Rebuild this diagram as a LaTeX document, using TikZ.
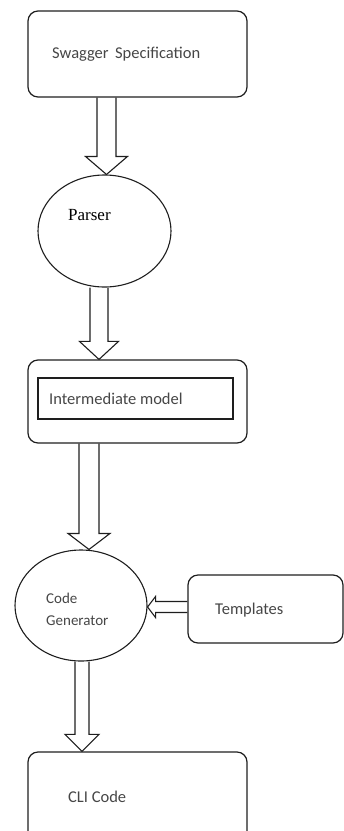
\documentclass[tikz,border=0pt]{standalone}
\usepackage{fontspec}
\setsansfont{Carlito}
\newfontfamily\parserfont{Liberation Serif}
\usetikzlibrary{calc,shapes.geometric}
\definecolor{fledge}{RGB}{30,30,30}
\definecolor{fltext}{RGB}{70,70,70}
\tikzset{
  flbox/.style={draw=fledge, line width=1.2pt, rounded corners=10pt, inner sep=0pt},
  flin/.style={draw=fledge, line width=1.2pt, inner sep=0pt},
  fleli/.style={draw=fledge, ellipse, line width=1.1pt, inner sep=0pt},
  lbl/.style={font=\fontsize{16.5}{22}\selectfont\sffamily, text=fltext, inner sep=0pt},
  fat/.style={draw=fledge, line width=1.1pt, line join=miter}
}
% hollow block arrow: from, tip, shaft half width, head half width, head length
\newcommand\fatarrow[5]{%
  \coordinate (fh) at ($(#2)!#5!(#1)$);
  \draw[fat] ($(#1)!#3!90:(#2)$) -- ($(fh)!#3!90:(#2)$) -- ($(fh)!#4!90:(#2)$)
    -- (#2) -- ($(fh)!#4!-90:(#2)$) -- ($(fh)!#3!-90:(#2)$) -- ($(#1)!#3!-90:(#2)$);
}

\begin{document}
\begin{tikzpicture}[x=1pt,y=-1pt]
  \useasboundingbox (0,0) rectangle (344,831);

  % boxes and ellipses
  \node[flbox, minimum width=219pt, minimum height=86pt] (swag) at (137.5,54) {};
  \node[fleli, minimum width=133pt, minimum height=112pt] (parser) at (104.5,231) {};
  \node[flbox, minimum width=219pt, minimum height=83pt] (model) at (137.5,401.5) {};
  \node[flin, minimum width=195pt, minimum height=41pt] (modelin) at (135.5,398.5) {};
  \node[fleli, minimum width=132pt, minimum height=111pt] (gen) at (81,605.5) {};
  \node[flbox, minimum width=155pt, minimum height=68pt] (tmpl) at (265.5,609) {};
  \node[flbox, minimum width=219pt, minimum height=90pt] (cli) at (137.5,797) {};

  % labels
  \node[lbl, anchor=base west] (swagt) at (52,58) {Swagger\, Specification};
  \node[inner sep=0pt, anchor=base west, font=\fontsize{17}{20}\parserfont] (parsert) at (68,220) {Parser};
  \node[lbl, anchor=base west] (modelt) at (49,404) {Intermediate model};
  \node[lbl, anchor=west, align=left, font=\fontsize{15}{22}\selectfont\sffamily] (gent) at (46,609) {Code\\Generator};
  \node[lbl, anchor=base west] (tmplt) at (215,614) {Templates};
  \node[lbl, anchor=base west] (clit) at (68,802) {CLI Code};

  % block arrows
  \coordinate (a1s) at (swag.south -| 106.5,0);
  \coordinate (a1t) at (parser.north -| 106.5,0);
  \fatarrow{a1s}{a1t}{9.5pt}{21pt}{18pt}
  \coordinate (a2s) at (parser.south -| 99,0);
  \coordinate (a2t) at (model.north -| 99,0);
  \fatarrow{a2s}{a2t}{9pt}{19.5pt}{18pt}
  \coordinate (a3s) at (model.south -| 89,0);
  \coordinate (a3t) at (gen.north -| 89,0);
  \fatarrow{a3s}{a3t}{10pt}{21pt}{16pt}
  \coordinate (a4s) at (gen.south -| 82,0);
  \coordinate (a4t) at (cli.north -| 82,0);
  \fatarrow{a4s}{a4t}{7pt}{17pt}{17pt}
  \coordinate (a5s) at (tmpl.west |- 0,607);
  \coordinate (a5t) at (gen.east |- 0,607);
  \fatarrow{a5s}{a5t}{5.5pt}{10.5pt}{8pt}
\end{tikzpicture}
\end{document}
